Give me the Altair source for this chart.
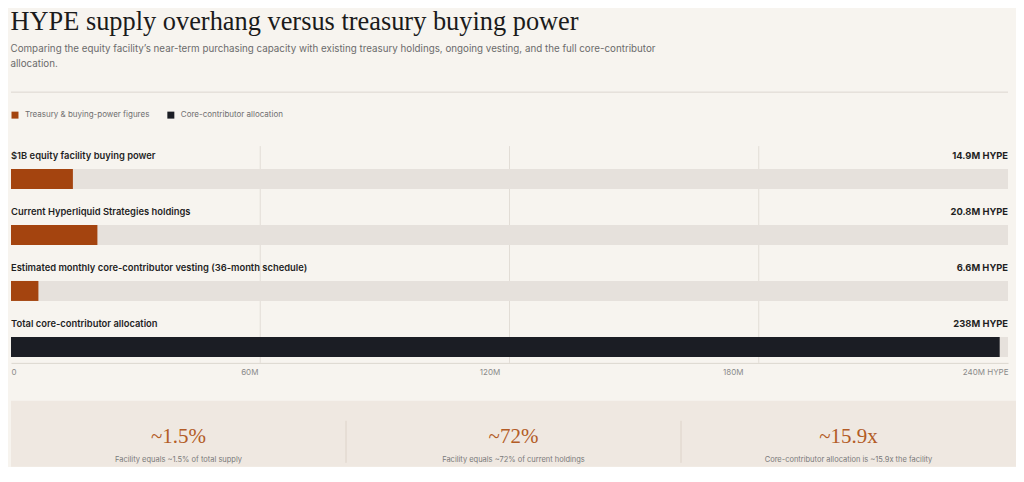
import altair as alt
import pandas as pd

# ---------------- data ----------------
TITLE = "HYPE supply overhang versus treasury buying power"
SUBTITLE = [
    "Comparing the equity facility\u2019s near-term purchasing capacity with existing treasury holdings, ongoing vesting, and the full core-contributor",
    "allocation.",
]

labels = [
    "$1B equity facility buying power",
    "Current Hyperliquid Strategies holdings",
    "Estimated monthly core-contributor vesting (36-month schedule)",
    "Total core-contributor allocation",
]
values = [14.9, 20.8, 6.6, 238]
value_text = ["14.9M HYPE", "20.8M HYPE", "6.6M HYPE", "238M HYPE"]
groups = [
    "Treasury & buying-power figures",
    "Treasury & buying-power figures",
    "Treasury & buying-power figures",
    "Core-contributor allocation",
]
legend_order = ["Treasury & buying-power figures", "Core-contributor allocation"]

axis_max = 240
tick_values = [0, 60, 120, 180, 240]
tick_labels = ["0", "60M", "120M", "180M", "240M HYPE"]
grid_values = [60, 120, 180]

stat_values = ["~1.5%", "~72%", "~15.9x"]
stat_captions = [
    "Facility equals ~1.5% of total supply",
    "Facility equals ~72% of current holdings",
    "Core-contributor allocation is ~15.9x the facility",
]

# ---------------- style ----------------
BG = "#f7f4ef"
PANEL = "#efe8e1"
ORANGE = "#a4440f"
DARK = "#1b1d24"
TRACK = "#e6e1dc"
GRID = "#e2ddd6"
RULE = "#dcd7d0"
STAT = "#b35c26"
INK = "#1f1f1f"
MUTED = "#6f6f6f"
W = 998

bars_df = pd.DataFrame({"label": labels, "value": values, "text": value_text, "group": groups})
grid_df = pd.DataFrame({"value": grid_values})
stat_df = pd.DataFrame({"stat": stat_values, "caption": stat_captions})

label_expr = " : ".join(
    f"datum.value == {v} ? '{t}'" for v, t in zip(tick_values[:-1], tick_labels[:-1])
) + f" : '{tick_labels[-1]}'"

x_scale = alt.Scale(domain=[0, axis_max], nice=False, zero=True)
x_axis = alt.Axis(
    values=tick_values,
    title=None,
    grid=False,
    ticks=False,
    domainColor=RULE,
    labelFlush=True,
    labelExpr=label_expr,
    labelOffset=alt.ExprRef(
        "datum.value == 60 ? -11 : datum.value == 120 ? -20 : datum.value == 180 ? -26 : 0"
    ),
    labelPadding=6,
    labelFont="Inter",
    labelFontSize=8,
    labelColor="#8a8a8a",
)
y_enc = alt.Y(
    "label:N",
    sort=labels,
    scale=alt.Scale(paddingInner=0.5, paddingOuter=0.1875, align=0.905),
    axis=None,
)

# ---------------- header ----------------
header = (
    alt.Chart(pd.DataFrame({"k": [0]}))
    .mark_rule(color=RULE, strokeWidth=1)
    .encode(x=alt.value(0), x2=alt.value(W), y=alt.value(0))
    .properties(
        width=W,
        height=1,
        title=alt.Title(
            TITLE,
            subtitle=SUBTITLE,
            anchor="start",
            font="Liberation Serif",
            fontSize=26.4,
            fontWeight="normal",
            color="#1b1b1b",
            subtitleFont="Inter",
            subtitleFontSize=9.8,
            subtitleColor="#6b6b6b",
            subtitleLineHeight=15,
            subtitlePadding=9,
            offset=23,
        ),
    )
)

# ---------------- bars ----------------
grid = alt.Chart(grid_df).mark_rule(color=GRID, strokeWidth=1).encode(
    x=alt.X("value:Q", scale=x_scale, axis=x_axis)
)
track = alt.Chart(bars_df).mark_bar(color=TRACK, size=20).encode(
    x=alt.datum(0), x2=alt.datum(axis_max), y=y_enc
)
bars = alt.Chart(bars_df).mark_bar(size=20).encode(
    x=alt.X("value:Q", scale=x_scale, axis=x_axis),
    y=y_enc,
    color=alt.Color(
        "group:N",
        scale=alt.Scale(domain=legend_order, range=[ORANGE, DARK]),
        legend=alt.Legend(
            title=None,
            orient="top",
            direction="horizontal",
            symbolType="square",
            symbolSize=49,
            symbolStrokeWidth=0,
            labelFont="Inter",
            labelFontSize=8,
            labelColor=MUTED,
            labelOffset=6,
            columnPadding=17,
            offset=27,
            padding=0,
        ),
    ),
)
row_labels = alt.Chart(bars_df).mark_text(
    align="left", baseline="middle", dy=-23, font="Inter", fontSize=9.4, fontWeight=600, color=INK
).encode(x=alt.datum(0), y=y_enc, text="label:N")
val_labels = alt.Chart(bars_df).mark_text(
    align="right", baseline="middle", dy=-23, font="Inter", fontSize=9.4, fontWeight=700, color=INK
).encode(x=alt.datum(axis_max), y=y_enc, text="text:N")

bar_chart = alt.layer(grid, track, bars, row_labels, val_labels).properties(width=W, height=217)

# ---------------- stats panel ----------------
x_col = alt.X(
    "stat:N", sort=stat_values, scale=alt.Scale(paddingInner=0, paddingOuter=0), axis=None
)
dividers = (
    alt.Chart(stat_df)
    .transform_filter(alt.datum.stat != stat_values[0])
    .mark_rule(color="#ddd3c9", strokeWidth=1)
    .encode(
        x=alt.X("stat:N", sort=stat_values, bandPosition=0,
                scale=alt.Scale(paddingInner=0, paddingOuter=0), axis=None),
        y=alt.value(20),
        y2=alt.value(62),
    )
)
big = alt.Chart(stat_df).mark_text(
    font="Liberation Serif", fontSize=21, color=STAT, baseline="middle"
).encode(x=x_col, y=alt.value(36), text="stat:N")
cap = alt.Chart(stat_df).mark_text(
    font="Inter", fontSize=7.5, color="#7a7a7a", baseline="middle"
).encode(x=x_col, y=alt.value(59), text="caption:N")

panel = alt.layer(dividers, big, cap).properties(
    width=1006, height=66, view=alt.ViewBackground(fill=PANEL, strokeWidth=0)
)

inner = alt.vconcat(bar_chart, panel, spacing=24).resolve_scale(color="independent")
chart = (
    alt.vconcat(header, inner, spacing=18)
    .resolve_scale(color="independent")
    .properties(background=BG, padding={"left": 2, "top": 0, "right": 0, "bottom": 0})
    .configure_view(strokeWidth=0)
)

chart.save("out.html", embed_options={"renderer": "svg", "actions": False})
